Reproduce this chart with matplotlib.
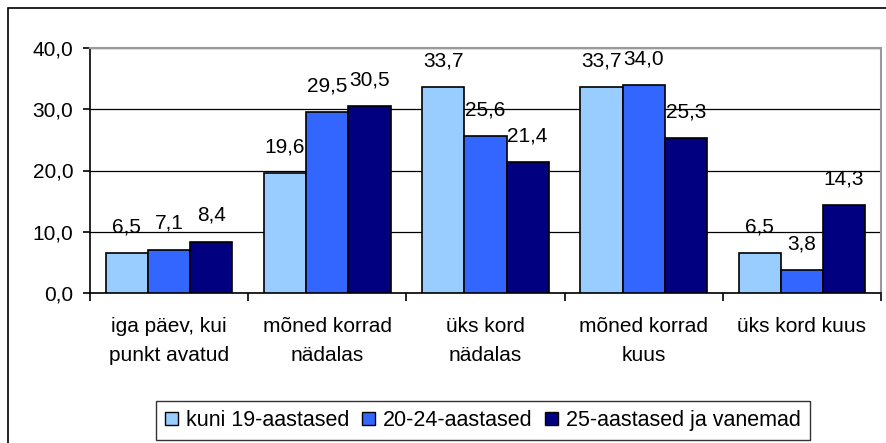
import matplotlib
matplotlib.use("Agg")
import matplotlib.pyplot as plt
import numpy as np
from matplotlib.patches import Rectangle, Patch

categories = ["iga päev, kui\npunkt avatud", "mõned korrad\nnädalas", "üks kord\nnädalas",
              "mõned korrad\nkuus", "üks kord kuus"]
series_names = ["kuni 19-aastased", "20-24-aastased", "25-aastased ja vanemad"]
s1 = [6.5, 19.6, 33.7, 33.7, 6.5]
s2 = [7.1, 29.5, 25.6, 34.0, 3.8]
s3 = [8.4, 30.5, 21.4, 25.3, 14.3]
colors = ["#99CCFF", "#3366FF", "#000080"]
yticks = [0, 10, 20, 30, 40]

plt.rcParams['font.family'] = ['Liberation Sans', 'DejaVu Sans']
FS = 15

fig = plt.figure(figsize=(8.86, 4.43), dpi=100)
fig.patches.append(Rectangle((8/886, -0.2), 1.2, 1 - 8/443 + 0.2, transform=fig.transFigure,
                             fill=False, edgecolor='black', linewidth=1.2, zorder=0))

ax = fig.add_axes([90/886, 150/443, 791/886, 245/443])
x = np.arange(len(categories))
w = 0.8 / 3
for i, (vals, c) in enumerate(zip([s1, s2, s3], colors)):
    pos = x - 0.8/2 + w/2 + i*w
    ax.bar(pos, vals, width=w, color=c, edgecolor='black', linewidth=1.2, zorder=3)
    for p, v in zip(pos, vals):
        ax.annotate(f"{v:.1f}".replace('.', ','), (p, v), xytext=(0, 14.8),
                    textcoords='offset points', ha='center', va='baseline', fontsize=FS, zorder=4)

ax.set_xlim(-0.5, len(categories) - 0.5)
ax.set_ylim(0, 40)
ax.set_yticks(yticks)
ax.set_yticklabels([f"{t:.1f}".replace('.', ',') for t in yticks], fontsize=FS)
ax.yaxis.grid(True, color='black', linewidth=0.9, zorder=0)
ax.set_axisbelow(True)
ax.set_xticks(np.arange(len(categories) + 1) - 0.5)
ax.set_xticklabels([])
ax.set_xticks(x, minor=True)
ax.set_xticklabels(categories, minor=True, fontsize=FS, linespacing=1.62)
ax.tick_params(axis='x', which='minor', length=0, pad=17.5)
ax.tick_params(axis='x', which='major', length=6, width=1.2, direction='out')
ax.tick_params(axis='y', length=5, width=1.2, direction='out', pad=7)
for s in ['left', 'bottom']:
    ax.spines[s].set_color('black')
    ax.spines[s].set_linewidth(1.2)
for s in ['top', 'right']:
    ax.spines[s].set_color('#999999')
    ax.spines[s].set_linewidth(1.5)

handles = [Patch(facecolor=c, edgecolor='black', linewidth=1.0) for c in colors]
leg = fig.legend(handles, series_names, loc='center', bbox_to_anchor=(483/886, 1 - 420.5/443),
                 ncol=3, fontsize=15.5, frameon=True, fancybox=False, edgecolor='black',
                 handlelength=0.6, handleheight=0.6, handletextpad=0.4, columnspacing=0.55,
                 borderpad=0.4, borderaxespad=0)
leg.get_frame().set_linewidth(1.0)

fig.savefig("out.png", dpi=100)
